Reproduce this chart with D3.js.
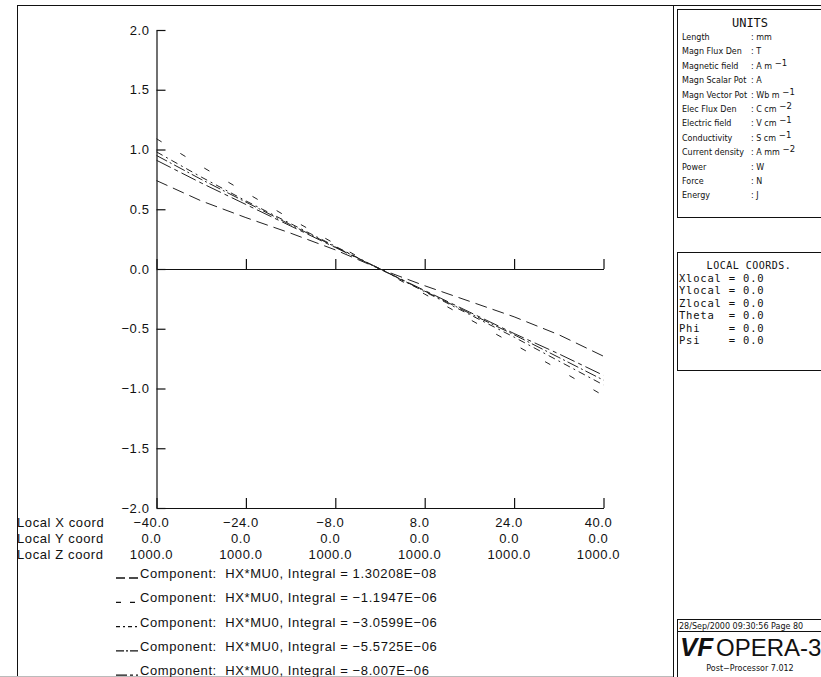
<!DOCTYPE html>
<html lang="en">
<head>
<meta charset="UTF-8">
<title>HX*MU0 along local X</title>
<script src="https://cdn.jsdelivr.net/npm/d3@7"></script>
<style>
    body { margin: 0; background: #fff; }
    svg { display: block; }
    text { fill: #111; }
</style>
</head>
<body>
<svg id="main" width="821" height="677"></svg>
<script>
    // sample positions along local X (mm)
    const xs = [-40, -32, -24, -16, -8, 0, 8, 16, 24, 32, 40];

    // HX*MU0, one array per curve
    const comp1 = [0.74, 0.57, 0.43, 0.30, 0.16, 0.0, -0.14, -0.27, -0.40, -0.55, -0.73];
    const comp2 = [1.09, 0.86, 0.64, 0.42, 0.21, 0.0, -0.21, -0.42, -0.63, -0.84, -1.06];
    const comp3 = [0.98, 0.77, 0.57, 0.38, 0.19, 0.0, -0.19, -0.38, -0.57, -0.77, -0.97];
    const comp4 = [0.95, 0.75, 0.56, 0.37, 0.185, 0.0, -0.185, -0.37, -0.55, -0.74, -0.93];
    const comp5 = [0.91, 0.72, 0.54, 0.36, 0.18, 0.0, -0.18, -0.36, -0.54, -0.71, -0.89];

    const integrals = ['1.30208E-08', '-1.1947E-06', '-3.0599E-06', '-5.5725E-06', '-8.007E-06'];

    const xTicks = [-40, -24, -8, 8, 24, 40];
    const yTicks = [-2, -1.5, -1, -0.5, 0, 0.5, 1, 1.5, 2];
    const localY = [0, 0, 0, 0, 0, 0];
    const localZ = [1000, 1000, 1000, 1000, 1000, 1000];

    const unitNames = ['Length', 'Magn Flux Den', 'Magnetic field', 'Magn Scalar Pot', 'Magn Vector Pot',
        'Elec Flux Den', 'Electric field', 'Conductivity', 'Current density', 'Power', 'Force', 'Energy'];
    const unitVals = [['mm', ''], ['T', ''], ['A m', '-1'], ['A', ''], ['Wb m', '-1'], ['C cm', '-2'],
        ['V cm', '-1'], ['S cm', '-1'], ['A mm', '-2'], ['W', ''], ['N', ''], ['J', '']];
    const coordNames = ['Xlocal = 0.0', 'Ylocal = 0.0', 'Zlocal = 0.0', 'Theta  = 0.0', 'Phi    = 0.0', 'Psi    = 0.0'];

    const series = [comp1, comp2, comp3, comp4, comp5];
    const dashes = ['12,6', '6,22', '7,4,2,4', '12,3,2,3', '16,4,4,4'];
    const legendDash = ['9,4', '5,9', '4,3,2,3', '8,2,2,2', '11,3,3,3'];

    const svg = d3.select('#main');
    const sans = 'Liberation Sans, Arial, sans-serif';
    const mono = 'DejaVu Sans Mono, monospace';
    const minus = s => s.replace(/-/g, '\u2212');

    const x = d3.scaleLinear().domain([-40, 40]).range([156.5, 603.5]);
    const y = d3.scaleLinear().domain([-2, 2]).range([508, 30]);

    // frames
    svg.append('line').attr('x1', 17.5).attr('x2', 821).attr('y1', 5.5).attr('y2', 5.5).attr('stroke', '#111');
    svg.append('line').attr('x1', 17.5).attr('x2', 17.5).attr('y1', 5).attr('y2', 677).attr('stroke', '#111');
    svg.append('line').attr('x1', 673.5).attr('x2', 673.5).attr('y1', 5).attr('y2', 677).attr('stroke', '#111');
    svg.append('line').attr('x1', 0).attr('x2', 673).attr('y1', 676.5).attr('y2', 676.5).attr('stroke', '#bbb');

    // y axis, ticks pointing inwards
    const yAxis = svg.append('g')
        .attr('transform', `translate(${x(-40)},0)`)
        .call(d3.axisLeft(y).tickValues(yTicks).tickFormat(d3.format('.1f'))
            .tickSizeInner(-9).tickSizeOuter(0).tickPadding(7));
    yAxis.selectAll('text').attr('font-family', sans).attr('font-size', 13).attr('letter-spacing', 0.6)
        .text(d => minus(d3.format('.1f')(d)));

    // x axes at 0 and at the bottom, ticks pointing up
    [0, -2].forEach(v => {
        svg.append('g')
            .attr('transform', `translate(0,${y(v)})`)
            .call(d3.axisBottom(x).tickValues(xTicks).tickFormat('')
                .tickSizeInner(-10).tickSizeOuter(0));
    });
    svg.selectAll('.domain, .tick line').attr('stroke', '#111').attr('stroke-width', 1.2);

    // curves
    const line = d3.line().x((d, i) => x(xs[i])).y(d => y(d));
    svg.append('g').selectAll('path').data(series).join('path')
        .attr('d', line)
        .attr('fill', 'none')
        .attr('stroke', '#222')
        .attr('stroke-width', 1)
        .attr('stroke-dasharray', (d, i) => dashes[i]);

    // coordinate rows under the plot
    const rows = [
        ['Local X coord', xTicks.map(d => minus(d3.format('.1f')(d)))],
        ['Local Y coord', localY.map(d => d3.format('.1f')(d))],
        ['Local Z coord', localZ.map(d => d3.format('.1f')(d))]
    ];
    rows.forEach((r, k) => {
        const ty = 527 + k * 16;
        svg.append('text').attr('x', 17).attr('y', ty).attr('font-family', sans)
            .attr('font-size', 13).attr('letter-spacing', 0.6).text(r[0]);
        svg.append('g').selectAll('text').data(r[1]).join('text')
            .attr('x', (d, i) => x(xTicks[i]) - 5)
            .attr('y', ty)
            .attr('text-anchor', 'middle')
            .attr('font-family', sans).attr('font-size', 13).attr('letter-spacing', 0.6)
            .text(d => d);
    });

    // legend
    const leg = svg.append('g').selectAll('g').data(integrals).join('g')
        .attr('transform', (d, i) => `translate(0,${578 + i * 24.3})`);
    leg.append('line').attr('x1', 116).attr('x2', 138).attr('y1', 0).attr('y2', 0)
        .attr('stroke', '#111').attr('stroke-width', 1.3)
        .attr('stroke-dasharray', (d, i) => legendDash[i]);
    leg.append('text').attr('x', 140).attr('y', 0)
        .attr('font-family', sans).attr('font-size', 13).attr('letter-spacing', 0.6)
        .attr('xml:space', 'preserve').style('white-space', 'pre')
        .text(d => 'Component:  HX*MU0, Integral = ' + minus(d));

    // UNITS box
    svg.append('rect').attr('x', 677.5).attr('y', 9.5).attr('width', 160).attr('height', 208)
        .attr('fill', 'none').attr('stroke', '#111');
    svg.append('text').attr('x', 750).attr('y', 27).attr('text-anchor', 'middle')
        .attr('font-family', mono).attr('font-size', 12).attr('textLength', 36).text('UNITS');
    const u = svg.append('g').selectAll('g').data(unitNames).join('g')
        .attr('transform', (d, i) => `translate(0,${40 + i * 14.4})`)
        .attr('font-family', 'DejaVu Sans, sans-serif').attr('font-size', 8);
    u.append('text').attr('x', 682).text(d => d);
    const uv = u.append('text').attr('x', 751);
    uv.append('tspan').text((d, i) => ': ' + unitVals[i][0]);
    uv.append('tspan').attr('dy', -3).attr('font-size', 8.5)
        .text((d, i) => unitVals[i][1] ? ' ' + minus(unitVals[i][1]) : '');

    // LOCAL COORDS box
    svg.append('rect').attr('x', 677.5).attr('y', 252.5).attr('width', 160).attr('height', 118)
        .attr('fill', 'none').attr('stroke', '#111');
    svg.append('text').attr('x', 749).attr('y', 269).attr('text-anchor', 'middle')
        .attr('font-family', mono).attr('font-size', 10).attr('letter-spacing', 0.5).text('LOCAL COORDS.');
    svg.append('g').selectAll('text').data(coordNames).join('text')
        .attr('x', 679).attr('y', (d, i) => 282 + i * 12.4)
        .attr('font-family', mono).attr('font-size', 10.5).attr('letter-spacing', 0.8)
        .attr('xml:space', 'preserve').style('white-space', 'pre')
        .text(d => d);

    // date / logo
    svg.append('rect').attr('x', 677.5).attr('y', 619.5).attr('width', 160).attr('height', 12)
        .attr('fill', 'none').attr('stroke', '#111');
    svg.append('text').attr('x', 679).attr('y', 629).attr('font-family', 'DejaVu Sans, sans-serif')
        .attr('font-size', 8).text('28/Sep/2000 09:30:56 Page 80');
    svg.append('rect').attr('x', 677.5).attr('y', 631.5).attr('width', 160).attr('height', 50)
        .attr('fill', 'none').attr('stroke', '#111');
    svg.append('text').attr('x', 680).attr('y', 656).attr('font-family', sans).attr('font-weight', 'bold')
        .attr('font-style', 'italic').attr('font-size', 26).text('VF');
    svg.append('text').attr('x', 716).attr('y', 656).attr('font-family', sans)
        .attr('font-size', 24).text('OPERA-3d');
    svg.append('text').attr('x', 750).attr('y', 671).attr('text-anchor', 'middle')
        .attr('font-family', 'DejaVu Sans, sans-serif').attr('font-size', 8).text('Post\u2212Processor 7.012');
</script>
</body>
</html>
